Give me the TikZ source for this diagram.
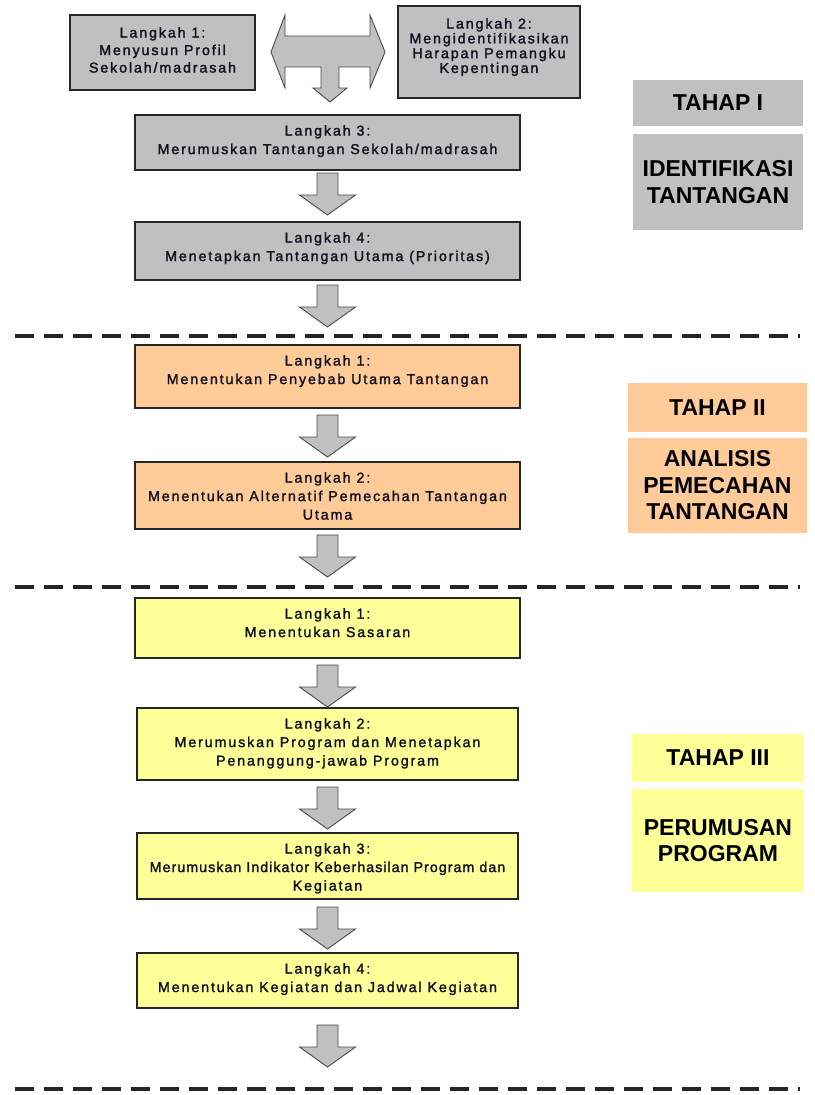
\documentclass[tikz,border=0pt]{standalone}
\usepackage{fontspec}
\setmainfont{Liberation Sans}
\newfontfamily\stepfont[LetterSpace=13,FakeBold=1.6]{Liberation Sans}
\newfontfamily\stepfonttight[LetterSpace=7,FakeBold=1.6]{Liberation Sans}
\usetikzlibrary{calc}
\definecolor{boxgray}{HTML}{C0C0C0}
\definecolor{boxorange}{HTML}{FFCC99}
\definecolor{boxyellow}{HTML}{FFFF99}
\definecolor{edgedark}{HTML}{262626}
\definecolor{arrowedge}{HTML}{4A4A4A}
\definecolor{txtdark}{HTML}{10101E}
\newcommand{\stepbx}[8][]{%
  \node[stepbox, fill=#7, minimum width={#5-#3}, minimum height={#6-#4}] (#2) at ({(#3+#5)/2},{(#4+#6)/2}) {};
  \node[steptext, anchor=north, #1] (#2t) at ($(#2.north)+(0,10)$) {#8};
}
\newcommand{\blockarr}[2]{%
  \draw[blockarrow] ($(#1.south)+(-10.5,#2)$) -- ++(21,0) -- ++(0,22) -- ++(17.5,0) -- ++(-28,20) -- ++(-28,-20) -- ++(17.5,0) -- cycle;
}
\begin{document}
\begin{tikzpicture}[x=1pt,y=-1pt,
 stepbox/.style={draw=edgedark, line width=1.2pt, inner sep=0pt, outer sep=0pt},
 steptext/.style={inner sep=0pt, align=center, text=txtdark, font=\stepfont\fontsize{14.3}{18.5}\selectfont},
 sidebox/.style={inner sep=0pt, outer sep=0pt, draw=none, align=center, text=black, font=\bfseries\fontsize{23}{26.5}\selectfont},
 blockarrow/.style={draw=arrowedge, fill=boxgray, line width=0.9pt, line join=miter},
 sepline/.style={line width=3.6pt, draw=black!85, dash pattern=on 19pt off 10pt}]
\useasboundingbox (0,0) rectangle (814,1095);

% ---- Tahap I ----
\stepbx[yshift=-2pt, font=\stepfont\fontsize{14.3}{17.5}\selectfont]{t1}{70}{15}{255}{90}{boxgray}{Langkah 1:\\Menyusun Profil\\Sekolah/madrasah}
\stepbx[yshift=-2pt, font=\stepfont\fontsize{14.3}{14.8}\selectfont]{t2}{398}{6}{580}{98}{boxgray}{Langkah 2:\\Mengidentifikasikan\\Harapan Pemangku\\Kepentingan}
\stepbx{l3}{135}{115}{520}{170}{boxgray}{Langkah 3:\\Merumuskan Tantangan Sekolah/madrasah}
\stepbx{l4}{135}{222}{520}{280}{boxgray}{Langkah 4:\\Menetapkan Tantangan Utama (Prioritas)}

\coordinate (dl) at (271,52);
\coordinate (dr) at (385,52);
\draw[blockarrow] (dl) -- (285,15) -- (285,36) -- (370,36) -- (370,15) -- (dr) -- (370,88) -- (370,67)
  -- (339,67) -- (339,88) -- (347,88) -- (330,102) -- (313,88) -- (321,88) -- (321,67)
  -- (285,67) -- (285,88) -- cycle;

\blockarr{l3}{3}
\blockarr{l4}{5}

\node[sidebox, fill=boxgray, minimum width=170, minimum height=46] (s1a) at (718,103) {TAHAP I};
\node[sidebox, fill=boxgray, minimum width=170, minimum height=96] (s1b) at (718,182) {IDENTIFIKASI\\TANTANGAN};

\draw[sepline] (15,336) -- (800,336);

% ---- Tahap II ----
\stepbx{o1}{135}{345}{520}{408}{boxorange}{Langkah 1:\\Menentukan Penyebab Utama Tantangan}
\stepbx{o2}{135}{462}{520}{529}{boxorange}{Langkah 2:\\Menentukan Alternatif Pemecahan Tantangan\\Utama}
\blockarr{o1}{7}
\blockarr{o2}{6}

\node[sidebox, fill=boxorange, minimum width=179, minimum height=49] (s2a) at (717.5,407.5) {TAHAP II};
\node[sidebox, fill=boxorange, minimum width=179, minimum height=95] (s2b) at (717.5,485.5) {ANALISIS\\PEMECAHAN\\TANTANGAN};

\draw[sepline] (15,587) -- (800,587);

% ---- Tahap III ----
\stepbx{y1}{135}{598}{520}{658}{boxyellow}{Langkah 1:\\Menentukan Sasaran}
\stepbx{y2}{137}{708}{518}{780}{boxyellow}{Langkah 2:\\Merumuskan Program dan Menetapkan\\Penanggung-jawab Program}
\stepbx{y3}{137}{833}{518}{899}{boxyellow}{Langkah 3:\\{\stepfonttight Merumuskan Indikator Keberhasilan Program dan}\\Kegiatan}
\stepbx{y4}{137}{953}{518}{1008}{boxyellow}{Langkah 4:\\Menentukan Kegiatan dan Jadwal Kegiatan}
\blockarr{y1}{7}
\blockarr{y2}{7}
\blockarr{y3}{8}
\blockarr{y4}{17}

\node[sidebox, fill=boxyellow, minimum width=172, minimum height=48] (s3a) at (718,758) {TAHAP III};
\node[sidebox, fill=boxyellow, minimum width=172, minimum height=103] (s3b) at (718,840.5) {PERUMUSAN\\PROGRAM};

\draw[sepline] (15,1089) -- (800,1089);
\end{tikzpicture}
\end{document}
